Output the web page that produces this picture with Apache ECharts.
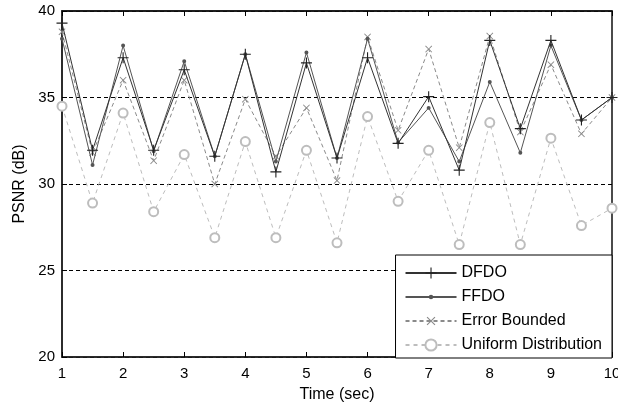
<!DOCTYPE html>
<html>
<head>
<meta charset="utf-8">
<script src="https://cdn.jsdelivr.net/npm/echarts@6/dist/echarts.min.js"></script>
<style>html,body{margin:0;padding:0;background:#fff}#c{width:618px;height:405px}</style>
</head>
<body>
<div id="c"></div>
<script>
var time = [1, 1.5, 2, 2.5, 3, 3.5, 4, 4.5, 5, 5.5, 6, 6.5, 7, 7.5, 8, 8.5, 9, 9.5, 10];
var dfdo = [39.3, 31.95, 37.3, 31.95, 36.6, 31.6, 37.5, 30.7, 37.0, 31.5, 37.3, 32.35, 35.05, 30.8, 38.3, 33.2, 38.3, 33.7, 35.0];
var ffdo = [38.4, 31.1, 38.0, 31.9, 37.1, 31.6, 37.5, 31.3, 37.6, 31.5, 38.4, 32.4, 34.4, 31.3, 35.9, 31.8, 38.0, 33.7, 35.0];
var errorBounded = [38.8, 31.8, 36.0, 31.35, 36.0, 30.0, 34.9, 31.6, 34.4, 30.2, 38.5, 33.1, 37.8, 32.1, 38.55, 33.0, 36.9, 32.9, 35.0];
var uniformDist = [34.5, 28.9, 34.1, 28.4, 31.7, 26.9, 32.45, 26.9, 31.95, 26.6, 33.9, 29.0, 31.95, 26.5, 33.55, 26.5, 32.65, 27.6, 28.6];
var seriesNames = ['DFDO', 'FFDO', 'Error Bounded', 'Uniform Distribution'];
var xTicks = {min: 1, max: 10, interval: 1};
var yTicks = {min: 20, max: 40, interval: 5};

function pairs(vals) { return time.map(function (t, i) { return [t, vals[i]]; }); }
var PLUS = 'path://M4.5,0h1v4.5h4.5v1h-4.5v4.5h-1v-4.5h-4.5v-1h4.5z';
var DOT = 'path://M0,0h0.01v0.01h-0.01z M10,10h0.01v0.01h-0.01z M5,3 A2,2 0 1,1 5,7 A2,2 0 1,1 5,3z';
var FONT = 'Arial, "Liberation Sans", sans-serif';

var chart = echarts.init(document.getElementById('c'), null, {renderer: 'canvas'});
chart.setOption({
  backgroundColor: '#fff',
  animation: false,
  textStyle: {fontFamily: FONT},
  grid: {left: 62, right: 6, top: 11, bottom: 48, containLabel: false, outerBoundsMode: 'none',
         show: true, borderColor: '#111', borderWidth: 1.5, backgroundColor: 'transparent'},
  legend: {
    data: seriesNames,
    orient: 'vertical',
    right: 6, top: 255,
    padding: [10, 10, 5, 9],
    itemGap: 8,
    itemWidth: 51,
    itemHeight: 14,
    backgroundColor: '#fff',
    borderColor: '#000',
    borderWidth: 1,
    borderRadius: 0,
    textStyle: {fontSize: 16, color: '#000', fontFamily: FONT}
  },
  xAxis: [{
    type: 'value', min: xTicks.min, max: xTicks.max, interval: xTicks.interval,
    name: 'Time (sec)', nameLocation: 'middle', nameGap: 30,
    nameTextStyle: {fontSize: 16, color: '#000', fontFamily: FONT},
    axisLine: {show: true, lineStyle: {color: '#222', width: 1.5}},
    axisTick: {show: true, inside: true, length: 5, lineStyle: {color: '#000'}},
    axisLabel: {fontSize: 15, color: '#000', margin: 9, fontFamily: FONT},
    splitLine: {show: false}
  }, {
    type: 'value', position: 'top', min: xTicks.min, max: xTicks.max, interval: xTicks.interval,
    axisLine: {show: true, lineStyle: {color: '#111', width: 1.5}},
    axisTick: {show: true, inside: true, length: 5, lineStyle: {color: '#000'}},
    axisLabel: {show: false},
    splitLine: {show: false}
  }],
  yAxis: [{
    type: 'value', min: yTicks.min, max: yTicks.max, interval: yTicks.interval,
    name: 'PSNR (dB)', nameLocation: 'middle', nameGap: 34,
    nameTextStyle: {fontSize: 16, color: '#000', fontFamily: FONT},
    axisLine: {show: true, lineStyle: {color: '#222', width: 1.5}},
    axisTick: {show: true, inside: true, length: 5, lineStyle: {color: '#000'}},
    axisLabel: {fontSize: 15, color: '#000', margin: 7, fontFamily: FONT},
    splitLine: {show: true, lineStyle: {color: '#000', width: 1, type: [4, 3]}}
  }],
  series: [
    {
      name: 'Uniform Distribution', type: 'line', data: pairs(uniformDist), z: 2,
      symbol: 'emptyCircle', symbolSize: 9, showAllSymbol: true,
      lineStyle: {color: '#bdbdbd', width: 1, type: [4, 4]},
      itemStyle: {color: '#bdbdbd', borderWidth: 1}
    },
    {
      name: 'Error Bounded', type: 'line', data: pairs(errorBounded), z: 3,
      symbol: PLUS, symbolRotate: 45, symbolSize: 9, showAllSymbol: true,
      lineStyle: {color: '#8a8a8a', width: 1, type: [4, 3]},
      itemStyle: {color: '#8a8a8a'}
    },
    {
      name: 'FFDO', type: 'line', data: pairs(ffdo), z: 4,
      symbol: DOT, symbolSize: 10, showAllSymbol: true,
      lineStyle: {color: '#555', width: 1},
      itemStyle: {color: '#555'}
    },
    {
      name: 'DFDO', type: 'line', data: pairs(dfdo), z: 5,
      symbol: PLUS, symbolSize: 11, showAllSymbol: true,
      lineStyle: {color: '#333', width: 1},
      itemStyle: {color: '#222'}
    }
  ]
});
</script>
</body>
</html>
